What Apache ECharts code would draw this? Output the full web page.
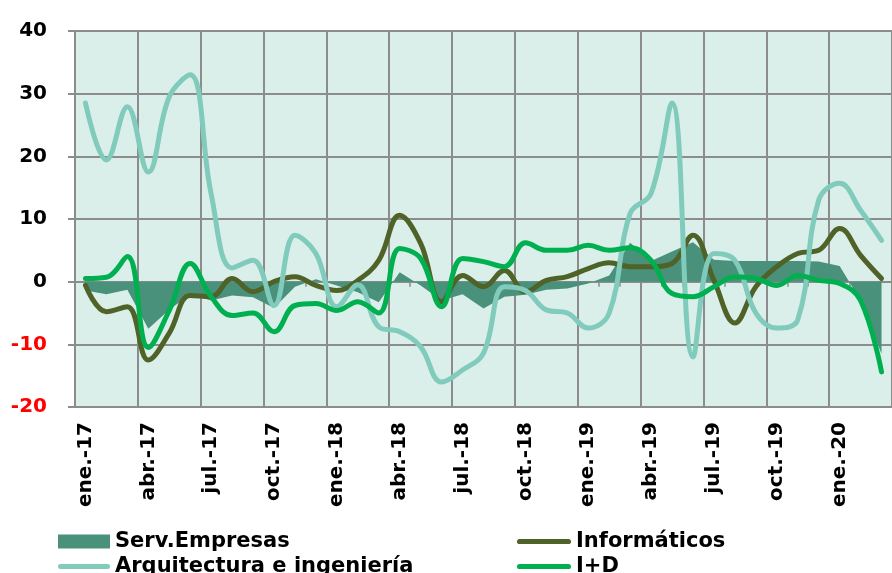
<!DOCTYPE html>
<html>
<head>
<meta charset="utf-8">
<script src="https://cdn.jsdelivr.net/npm/echarts@6/dist/echarts.min.js"></script>
<style>
  html, body { margin: 0; padding: 0; background: #fff; }
  #chart { width: 892px; height: 573px; }
</style>
</head>
<body>
<div id="chart"></div>
<script>
// meses (ene.-17 ... mar.-20)
const categories = [
  'ene.-17', 'feb.-17', 'mar.-17', 'abr.-17', 'may.-17', 'jun.-17', 'jul.-17', 'ago.-17', 'sep.-17', 'oct.-17', 'nov.-17', 'dic.-17',
  'ene.-18', 'feb.-18', 'mar.-18', 'abr.-18', 'may.-18', 'jun.-18', 'jul.-18', 'ago.-18', 'sep.-18', 'oct.-18', 'nov.-18', 'dic.-18',
  'ene.-19', 'feb.-19', 'mar.-19', 'abr.-19', 'may.-19', 'jun.-19', 'jul.-19', 'ago.-19', 'sep.-19', 'oct.-19', 'nov.-19', 'dic.-19',
  'ene.-20', 'feb.-20', 'mar.-20'
]

const servEmpresas = [
  -1.4, -2.0, -1.3, -7.5, -4.5, -2.0, -3.0, -2.2, -2.5, -4.2, -0.8, 0.4,
  -0.6, -1.7, -3.3, 1.5, -0.6, -3.0, -2.0, -4.3, -2.4, -2.1, -1.3, -1.1,
  -0.3, 1.0, 6.2, 3.3, 4.8, 6.3, 3.5, 3.3, 3.3, 3.3, 3.3, 3.2,
  2.5, -3.0, -11.5
]
const informaticos = [
  -0.6, -4.8, -4.0, -12.5, -8.2, -2.2, -2.4, 0.5, -1.6, 0.0, 0.8, -0.6,
  -1.4, 0.2, 3.4, 10.6, 6.1, -3.2, 1.0, -0.8, 1.8, -1.6, 0.2, 0.8,
  2.1, 3.0, 2.4, 2.4, 2.9, 7.4, 0.2, -6.6, -0.8, 2.4, 4.5, 5.0,
  8.5, 4.2, 0.5
]
const arquitectura = [
  28.5, 19.4, 27.9, 17.5, 29.5, 33.0, 14.0, 2.2, 3.4, -3.8, 7.4, 4.5,
  -4.0, -0.5, -7.2, -8.0, -10.4, -16.0, -14.1, -11.4, -0.8, -1.4, -4.5, -5.0,
  -7.4, -5.0, 10.9, 14.1, 28.5, -12.0, 4.5, 3.4, -5.0, -7.4, -6.1, 13.0,
  15.7, 11.4, 6.6
]
const iMasD = [
  0.5, 0.7, 4.0, -10.5, -4.6, 2.9, -2.4, -5.4, -5.0, -8.0, -3.8, -3.5,
  -4.6, -3.2, -5.0, 5.3, 3.7, -4.0, 3.7, 3.2, 2.4, 6.2, 5.0, 5.0,
  5.8, 5.0, 5.4, 3.4, -1.9, -2.4, -0.8, 0.8, 0.5, -0.6, 1.0, 0.2,
  -0.3, -3.0, -14.4
]

const FONT = 'DejaVu Sans'
const GRID_COLOR = '#8c8c8c'
// icono de leyenda: barra con extremos redondeados
const LINE_ICON = 'path://M2.5,0 L49.5,0 A2.5,2.5 0 0 1 49.5,5 L2.5,5 A2.5,2.5 0 0 1 2.5,0 Z'

const chart = echarts.init(document.getElementById('chart'), null, { renderer: 'canvas' })

function lineSeries(name, data, color) {
  return {
    name: name,
    type: 'line',
    data: data,
    smooth: 0.4,
    showSymbol: false,
    symbol: 'none',
    itemStyle: { color: color },
    lineStyle: { color: color, width: 5, cap: 'round', join: 'round' },
    emphasis: { disabled: true }
  }
}

const legendText = { fontFamily: FONT, fontWeight: 'bold', fontSize: 21, color: '#000' }

const option = {
  animation: false,
  backgroundColor: '#ffffff',
  grid: {
    left: 75,
    top: 31,
    right: -3,
    bottom: 166,
    show: true,
    backgroundColor: '#daeeea',
    borderWidth: 0
  },
  legend: [
    {
      left: 53,
      top: 526,
      height: 100,
      orient: 'vertical',
      itemWidth: 52,
      itemHeight: 14,
      itemGap: 4,
      symbolKeepAspect: true,
      textStyle: legendText,
      data: [{ name: 'Serv.Empresas', icon: 'rect' }, { name: 'Arquitectura e ingeniería', icon: LINE_ICON }]
    },
    {
      left: 512,
      top: 526,
      height: 100,
      orient: 'vertical',
      itemWidth: 54,
      itemHeight: 14,
      itemGap: 4,
      symbolKeepAspect: true,
      textStyle: legendText,
      data: [{ name: 'Informáticos', icon: LINE_ICON }, { name: 'I+D', icon: LINE_ICON }]
    }
  ],
  xAxis: [
    {
      // eje inferior: solo etiquetas
      type: 'category',
      data: categories,
      boundaryGap: true,
      position: 'bottom',
      axisLine: { onZero: false, lineStyle: { color: GRID_COLOR, width: 2 } },
      axisTick: { show: false },
      axisLabel: {
        interval: 2,
        rotate: 90,
        margin: 15,
        fontFamily: FONT,
        fontWeight: 'bold',
        fontSize: 20,
        color: '#000'
      },
      splitLine: { show: true, interval: 2, lineStyle: { color: GRID_COLOR, width: 2 } }
    },
    {
      // linea del cero con marcas mensuales
      type: 'category',
      data: categories,
      boundaryGap: true,
      position: 'bottom',
      axisLine: { onZero: true, lineStyle: { color: GRID_COLOR, width: 2 } },
      axisTick: { show: true, interval: 0, length: 5, lineStyle: { color: GRID_COLOR, width: 1.5 } },
      axisLabel: { show: false },
      splitLine: { show: false }
    }
  ],
  yAxis: {
    type: 'value',
    min: -20,
    max: 40,
    interval: 10,
    axisLine: { show: true, lineStyle: { color: GRID_COLOR, width: 2 } },
    axisTick: { show: true, length: 7, lineStyle: { color: GRID_COLOR, width: 2 } },
    axisLabel: {
      margin: 28,
      fontFamily: FONT,
      fontWeight: 'bold',
      fontSize: 20,
      color: function (value) {
        return value < 0 ? '#ff0000' : '#000000'
      }
    },
    splitLine: { show: true, lineStyle: { color: GRID_COLOR, width: 2 } }
  },
  series: [
    {
      name: 'Serv.Empresas',
      type: 'line',
      data: servEmpresas,
      showSymbol: false,
      symbol: 'none',
      itemStyle: { color: '#4a917b' },
      lineStyle: { width: 0 },
      areaStyle: { color: '#4a917b', opacity: 1 },
      emphasis: { disabled: true }
    },
    lineSeries('Informáticos', informaticos, '#4f6228'),
    lineSeries('Arquitectura e ingeniería', arquitectura, '#80cbbb'),
    lineSeries('I+D', iMasD, '#00b050')
  ]
}

chart.setOption(option)
</script>
</body>
</html>
